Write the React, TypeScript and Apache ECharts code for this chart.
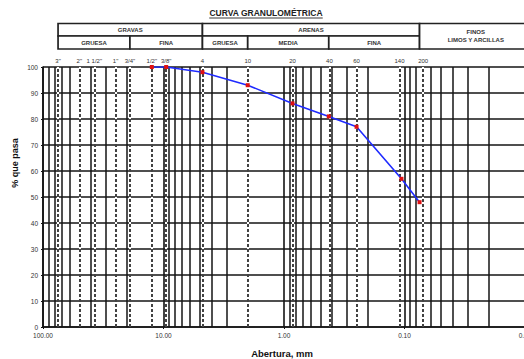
import React, { useEffect, useRef } from "react";
import * as echarts from "echarts";

// Sieve series (ASTM) with opening in mm and the passing percentage
const sieveLabels = ['3"', '2"', '1 1/2"', '1"', '3/4"', '1/2"', '3/8"', "4", "10", "20", "40", "60", "140", "200"];
const sieveSizes = [75, 50, 37.5, 25, 19, 12.5, 9.5, 4.75, 2, 0.85, 0.425, 0.25, 0.106, 0.075];
const passing: (number | null)[] = [null, null, null, null, null, 100, 100, 98, 93, 86, 81, 77, 57, 48];

// Log grid: decades and minor steps inside each decade
const gridDecades = [0.01, 0.1, 1, 10];
const gridSteps = [2, 3, 4, 5, 6, 7, 8, 9];

// Soil classification header (limits in mm)
const mainBands = [
  { name: "GRAVAS", from: 75, to: 4.75 },
  { name: "ARENAS", from: 4.75, to: 0.075 },
];
const subBands = [
  { name: "GRUESA", from: 75, to: 19 },
  { name: "FINA", from: 19, to: 4.75 },
  { name: "GRUESA", from: 4.75, to: 2 },
  { name: "MEDIA", from: 2, to: 0.425 },
  { name: "FINA", from: 0.425, to: 0.075 },
];
const finesBand = { title: "FINOS", subtitle: "LIMOS Y ARCILLAS", from: 0.075 };

const FONT = "Arial, 'Liberation Sans', sans-serif";
const INK = "#141414";

export default function App() {
  const ref = useRef<HTMLDivElement>(null);

  useEffect(() => {
    if (!ref.current) return;
    const chart = echarts.init(ref.current, undefined, { renderer: "svg" });

    const curve = sieveSizes
      .map((s, i) => [s, passing[i]])
      .filter((p) => p[1] !== null);

    const minorLines: { xAxis: number }[] = [];
    gridDecades.forEach((d) => gridSteps.forEach((k) => minorLines.push({ xAxis: +(d * k).toPrecision(3) })));

    chart.setOption({
      animation: false,
      grid: { left: 43, right: -1, top: 67, bottom: 32, containLabel: false, outerBoundsMode: "none" },
      xAxis: {
        type: "log",
        logBase: 10,
        min: 0.01,
        max: 100,
        inverse: true,
        axisLine: { show: true, lineStyle: { color: INK, width: 1.6 } },
        axisTick: { show: true, length: 2, lineStyle: { color: INK } },
        axisLabel: {
          fontSize: 6.5,
          color: "#333",
          fontFamily: FONT,
          margin: 5,
          formatter: (v: number) => v.toFixed(2),
        },
        splitLine: { show: true, lineStyle: { color: INK, width: 1.6 } },
      },
      yAxis: {
        type: "value",
        min: 0,
        max: 100,
        interval: 10,
        axisLine: { show: true, lineStyle: { color: INK, width: 1.6 } },
        axisTick: { show: true, length: 2, lineStyle: { color: INK } },
        axisLabel: { fontSize: 6.5, color: "#333", fontFamily: FONT, margin: 5 },
        splitLine: { show: true, lineStyle: { color: INK, width: 1.6 } },
      },
      series: [
        {
          name: "minor",
          type: "line",
          data: [],
          silent: true,
          z: 1,
          markLine: {
            silent: true,
            symbol: ["none", "none"],
            label: { show: false },
            lineStyle: { color: INK, width: 1.5, type: "solid" },
            data: minorLines,
          },
        },
        {
          name: "sieveUnder",
          type: "line",
          data: [],
          silent: true,
          z: 2,
          markLine: {
            silent: true,
            symbol: ["none", "none"],
            label: { show: false },
            lineStyle: { color: "#ffffff", width: 2, type: "solid" },
            data: sieveSizes.map((s) => ({ xAxis: s })),
          },
        },
        {
          name: "sieve",
          type: "line",
          data: [],
          silent: true,
          z: 3,
          markLine: {
            silent: true,
            symbol: ["none", "none"],
            lineStyle: { color: INK, width: 1.6, type: [3, 2] },
            label: {
              show: true,
              position: "end",
              distance: 3,
              fontSize: 6,
              color: "#333",
              fontFamily: FONT,
              formatter: (p: any) => sieveLabels[p.dataIndex],
            },
            data: sieveSizes.map((s) => ({ xAxis: s })),
          },
        },
        {
          name: "curve",
          type: "line",
          data: curve,
          z: 10,
          symbol: "rect",
          symbolSize: 4,
          showSymbol: true,
          lineStyle: { color: "#1f2bff", width: 1.6 },
          itemStyle: { color: "#e01010" },
        },
      ],
    });

    const xp = (v: number) => chart.convertToPixel({ xAxisIndex: 0 }, v) as number;
    const rowTop = 23.5;
    const rowMid = 36;
    const rowBot = 49;
    const rightEnd = 532;
    const cellStyle = { fill: "#ffffff", stroke: "#222", lineWidth: 1.7 };
    const headerFont = { fontSize: 6, fontWeight: "bold", fontFamily: FONT, fill: "#333" };

    const graphics: any[] = [];
    mainBands.forEach((b) => {
      const x0 = xp(b.from);
      const x1 = xp(b.to);
      graphics.push({ type: "rect", shape: { x: x0, y: rowTop, width: x1 - x0, height: rowMid - rowTop }, style: cellStyle, z: 1 });
      graphics.push({
        type: "text",
        x: (x0 + x1) / 2,
        y: (rowTop + rowMid) / 2,
        style: { text: b.name, align: "center", verticalAlign: "middle", ...headerFont },
        z: 2,
      });
    });
    subBands.forEach((b) => {
      const x0 = xp(b.from);
      const x1 = xp(b.to);
      graphics.push({ type: "rect", shape: { x: x0, y: rowMid, width: x1 - x0, height: rowBot - rowMid }, style: cellStyle, z: 1 });
      graphics.push({
        type: "text",
        x: (x0 + x1) / 2,
        y: (rowMid + rowBot) / 2 + 0.5,
        style: { text: b.name, align: "center", verticalAlign: "middle", ...headerFont },
        z: 2,
      });
    });
    const fx0 = xp(finesBand.from);
    graphics.push({ type: "rect", shape: { x: fx0, y: rowTop, width: rightEnd - fx0, height: rowBot - rowTop }, style: cellStyle, z: 1 });
    graphics.push({
      type: "text",
      x: (fx0 + rightEnd) / 2,
      y: 32,
      style: { text: finesBand.title, align: "center", verticalAlign: "middle", ...headerFont },
      z: 2,
    });
    graphics.push({
      type: "text",
      x: (fx0 + rightEnd) / 2,
      y: 39.5,
      style: { text: finesBand.subtitle, align: "center", verticalAlign: "middle", ...headerFont },
      z: 2,
    });

    // Title with underline
    const title = "CURVA GRANULOMÉTRICA";
    const titleSize = 8.5;
    const ctx = document.createElement("canvas").getContext("2d");
    let tw = 120;
    if (ctx) {
      ctx.font = `bold ${titleSize}px ${FONT}`;
      tw = ctx.measureText(title).width;
    }
    const tcx = 266;
    graphics.push({
      type: "text",
      x: tcx,
      y: 13,
      style: { text: title, align: "center", verticalAlign: "middle", fontSize: titleSize, fontWeight: "bold", fontFamily: FONT, fill: "#222" },
    });
    graphics.push({
      type: "line",
      shape: { x1: tcx - tw / 2, y1: 18, x2: tcx + tw / 2, y2: 18 },
      style: { stroke: "#222", lineWidth: 0.9 },
    });

    // Axis titles
    graphics.push({
      type: "text",
      x: 282,
      y: 353.5,
      style: { text: "Abertura, mm", align: "center", verticalAlign: "middle", fontSize: 9.5, fontWeight: "bold", fontFamily: FONT, fill: "#111" },
    });
    graphics.push({
      type: "text",
      x: 15,
      y: 163,
      rotation: Math.PI / 2,
      style: { text: "% que pasa", align: "center", verticalAlign: "middle", fontSize: 9, fontWeight: "bold", fontFamily: FONT, fill: "#111" },
    });

    chart.setOption({ graphic: graphics });

    return () => chart.dispose();
  }, []);

  return (
    <div style={{ position: "fixed", left: 0, top: 0, width: 524, height: 359, overflow: "hidden", background: "#fff" }}>
      <div ref={ref} style={{ width: 524, height: 359 }} />
    </div>
  );
}
